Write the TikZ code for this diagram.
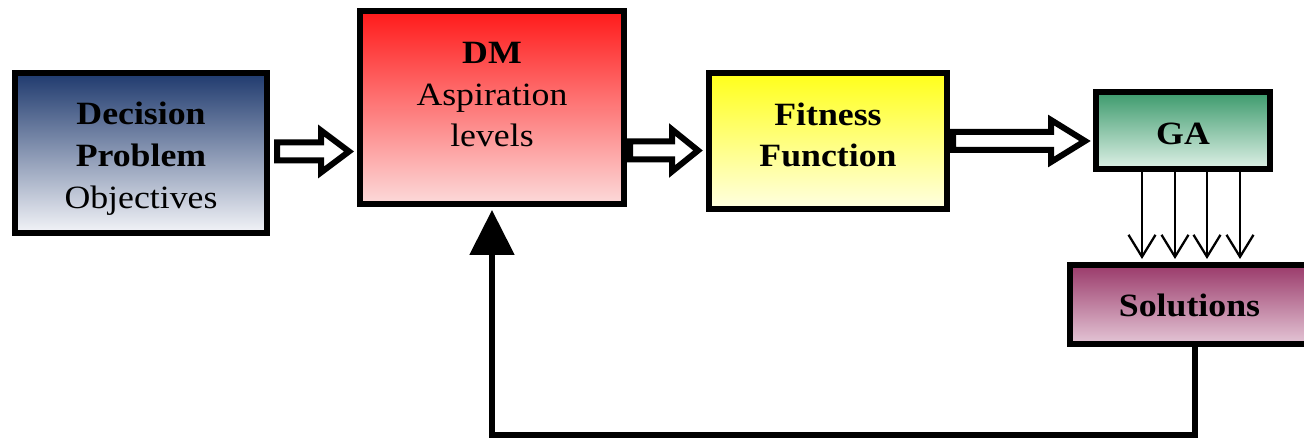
\documentclass[tikz,border=0pt]{standalone}
\usepackage{fontspec}
\setmainfont[FakeStretch=1.1]{Liberation Serif}
\usepackage{xcolor}
\usetikzlibrary{calc, arrows.meta, backgrounds}

\definecolor{navytop}{HTML}{1F3A6E}
\definecolor{navybot}{HTML}{F3F4F8}
\definecolor{redtop}{HTML}{FF1A1A}
\definecolor{redbot}{HTML}{FCDADA}
\definecolor{yeltop}{HTML}{FFFF1A}
\definecolor{yelbot}{HTML}{FFFFE2}
\definecolor{gratop}{HTML}{3C9A6C}
\definecolor{grabot}{HTML}{DFF1E7}
\definecolor{soltop}{HTML}{9A3A6A}
\definecolor{solbot}{HTML}{E4C6D6}

%% hollow block arrow between two boxes at height #3 (cm),
%% #4 = gap at its tail, #5 = length of its head
\newcommand{\fatarrow}[5]{%
  \draw[fatarrow] let \p1=(#1.east), \p2=(#2.west) in
    ({\x1+#4}, {#3cm+0.18cm}) -- ({\x2-0.16cm-#5}, {#3cm+0.18cm})
    -- ({\x2-0.16cm-#5}, {#3cm+0.42cm}) -- ({\x2-0.16cm}, {#3cm})
    -- ({\x2-0.16cm-#5}, {#3cm-0.42cm}) -- ({\x2-0.16cm-#5}, {#3cm-0.18cm})
    -- ({\x1+#4}, {#3cm-0.18cm}) -- cycle;
}

\begin{document}
\begin{tikzpicture}[
    box/.style={draw, line width=0.12cm, align=center, shading=axis,
      font=\fontsize{18.5}{23.8}\selectfont},
    fatarrow/.style={draw, fill=white, line width=0.12cm, miter limit=10},
    fanarrow/.style={line width=1.3pt,
      -{Straight Barb[length=0.44cm, width=0.54cm, line width=1.3pt]}},
    feedback/.style={line width=0.11cm,
      -{Triangle[length=0.9cm, width=0.88cm]}}
  ]
  \useasboundingbox (0,0) rectangle (26.08,8.74);

  %% boxes
  \node[box, top color=navytop, bottom color=navybot,
    minimum width=5.04cm, minimum height=3.20cm,
    text height=2.4cm, text depth=0.2cm] (dp) at (2.82, 5.68)
    {\textbf{Decision}\\\textbf{Problem}\\Objectives};
  \node[box, top color=redtop, bottom color=redbot,
    minimum width=5.28cm, minimum height=3.86cm,
    text height=2.4cm, text depth=0.82cm] (dm) at (9.84, 6.59)
    {\textbf{DM}\\Aspiration\\levels};
  \node[box, top color=yeltop, bottom color=yelbot,
    minimum width=4.76cm, minimum height=2.72cm,
    text height=1.6cm, text depth=0.56cm] (ff) at (16.56, 5.92)
    {\textbf{Fitness}\\\textbf{Function}};
  \node[box, top color=gratop, bottom color=grabot,
    minimum width=3.48cm, minimum height=1.54cm,
    text height=0.6cm, text depth=0.02cm] (ga) at (23.66, 6.13)
    {\textbf{GA}};
  \node[box, top color=soltop, bottom color=solbot,
    minimum width=4.78cm, minimum height=1.58cm,
    text height=0.6cm, text depth=0.14cm] (sol) at (23.79, 2.65)
    {\textbf{Solutions}};

  %% block arrows along the top row
  \fatarrow{dp}{dm}{5.71}{0.14cm}{0.56cm}
  \fatarrow{dm}{ff}{5.73}{0.06cm}{0.52cm}
  \fatarrow{ff}{ga}{5.92}{0.06cm}{0.68cm}

  %% GA to solutions, and back to the DM
  \begin{scope}[on background layer]
    \foreach \dx in {-0.82, -0.16, 0.48, 1.14}
      \draw[fanarrow] ([xshift=\dx cm]ga.south) -- ([xshift=\dx cm, yshift=0.06cm]ga.south |- sol.north);
    \coordinate (loop) at (9.84, 0.04);
    \draw[feedback] ([xshift=0.11cm]sol.south) |- (loop) -- ([yshift=-0.06cm]dm.south);
  \end{scope}
\end{tikzpicture}
\end{document}
